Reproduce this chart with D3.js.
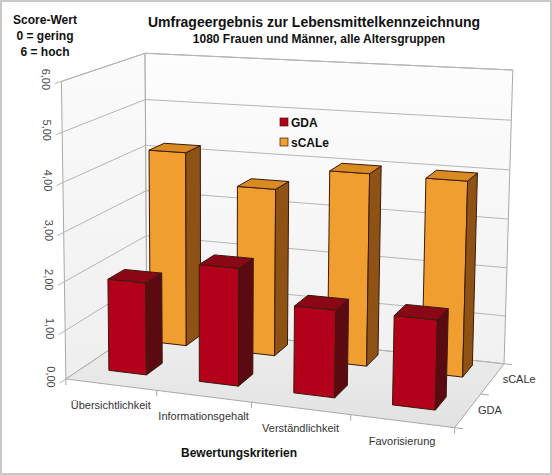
<!DOCTYPE html>
<html><head><meta charset="utf-8">
<script src="https://cdn.jsdelivr.net/npm/d3@7/dist/d3.min.js"></script>
<style>
html,body{margin:0;padding:0;background:#fff;}
text{font-family:"Liberation Sans",Arial,sans-serif;}
</style></head>
<body>
<svg id="chart" width="552" height="475"></svg>
<script>
// ---------- DATA ----------
const categories = ["Übersichtlichkeit","Informationsgehalt","Verständlichkeit","Favorisierung"];
const seriesNames = ["GDA","sCALe"];
const gdaValues   = [1.9, 2.38, 1.74, 1.75];
const scaleValues = [4.14, 3.51, 3.97, 3.96];
const yTicks = [0,1,2,3,4,5,6];
const titleText = "Umfrageergebnis zur Lebensmittelkennzeichnung";
const subtitleText = "1080 Frauen und Männer, alle Altersgruppen";
const yTitleLines = ["Score-Wert","0 = gering","6 = hoch"];
const xTitleText = "Bewertungskriterien";

// ---------- STYLE / LAYOUT ----------
const W = 552, H = 475;
const colors = {
  GDA:   {front:"#b3001b", side:"#5c0a12", top:"#8a0715"},
  sCALe: {front:"#f09e2f", side:"#8e5314", top:"#d98a22"}
};
const barWidthFrac = 0.42;          // share of a category band
const rowFront = {GDA:0.2, sCALe:0.72}; // depth position of each row's front face
const barDepth = 0.2;
// frame calibration: world (x 0..1, y 0..1, z 0..1) -> screen points
const calib = [
  [0,0,0, 70,377],[1,0,0, 457,428],[0,0,1, 146,334],[1,0,1, 507,358],
  [0,1,0, 57,81],[0,1,1, 147,52],[1,1,1, 513,73],
  [0.25,0,0, 160,390],[0.5,0,0, 255,403],[0.75,0,0, 353,417],
  [0,0.5,0, 63,232],[0,5/6,1, 147,98],[0,4/6,1, 148,145],[1,5/6,1, 510,122],[1,1/6,1, 507,311],
  // floor points under the bar fronts
  [0.0725,0,0.2, 110,370],[0.1775,0,0.2, 145,373],
  [0.3225,0,0.2, 199,380],[0.4275,0,0.2, 237,385],
  [0.5725,0,0.2, 293,393],[0.6775,0,0.2, 332,398],
  [0.8225,0,0.2, 392,408],[0.9275,0,0.2, 432,412],
  [0.1775,0,0.72, 182,343],
  [0.3225,0,0.72, 236,352],[0.4275,0,0.72, 272,354],
  [0.5725,0,0.72, 327,363],[0.6775,0,0.72, 365,365],
  [0.8225,0,0.72, 423,375],[0.9275,0,0.72, 462,377]
];

function solveDLT(pts){
  const S = 500;
  const A=[], b=[];
  pts.forEach(([X,Y,Z,u0,v0])=>{
    const u=u0/S, v=v0/S;
    A.push([X,Y,Z,1,0,0,0,0,-u*X,-u*Y,-u*Z]); b.push(u);
    A.push([0,0,0,0,X,Y,Z,1,-v*X,-v*Y,-v*Z]); b.push(v);
  });
  const n=11;
  const M=[...Array(n)].map(()=>new Array(n+1).fill(0));
  for(let i=0;i<n;i++){
    for(let j=0;j<n;j++){let s=0;for(let k=0;k<A.length;k++)s+=A[k][i]*A[k][j];M[i][j]=s;}
    let s=0;for(let k=0;k<A.length;k++)s+=A[k][i]*b[k];M[i][n]=s;
  }
  for(let c=0;c<n;c++){
    let p=c;for(let r=c+1;r<n;r++) if(Math.abs(M[r][c])>Math.abs(M[p][c]))p=r;
    [M[c],M[p]]=[M[p],M[c]];
    for(let r=0;r<n;r++){ if(r===c)continue; const f=M[r][c]/M[c][c]; for(let k=c;k<=n;k++) M[r][k]-=f*M[c][k]; }
  }
  const p=M.map((row,i)=>row[n]/row[i]);
  return (X,Y,Z)=>{
    const w=p[8]*X+p[9]*Y+p[10]*Z+1;
    return [S*(p[0]*X+p[1]*Y+p[2]*Z+p[3])/w, S*(p[4]*X+p[5]*Y+p[6]*Z+p[7])/w];
  };
}
const proj = solveDLT(calib);

// ---------- SCALES ----------
const x = d3.scaleBand().domain(categories).range([0,1]).padding(0);
const z = d3.scaleOrdinal().domain(seriesNames).range(seriesNames.map(s=>rowFront[s]));
const zLabel = d3.scaleBand().domain(seriesNames).range([0,1]).padding(0);
const y = d3.scaleLinear().domain([0,6]).range([0,1]);
const loc = d3.formatLocale({decimal:",",thousands:".",grouping:[3],currency:["","€"]});
const fmt = loc.format(".2f");

const svg = d3.select("#chart");
const defs = svg.append("defs");
function grad(id, c1, c2, x1,y1,x2,y2){
  const g=defs.append("linearGradient").attr("id",id).attr("x1",x1).attr("y1",y1).attr("x2",x2).attr("y2",y2);
  g.append("stop").attr("offset","0%").attr("stop-color",c1);
  g.append("stop").attr("offset","100%").attr("stop-color",c2);
}
grad("gFloor","#efefef","#e2e2e2","0","0","0","1");
grad("gBack","#fdfdfd","#f1f1f1","0","0","0","1");
grad("gLeft","#fbfbfb","#efefef","0","0","0","1");

svg.append("rect").attr("x",1).attr("y",1).attr("width",W-2).attr("height",H-2)
  .attr("fill","#fff").attr("stroke","#c9c9c9").attr("stroke-width",2);

const line = d3.line();
const P = pts => line(pts.map(q=>proj(q[0],q[1],q[2])))+"Z";
const L = pts => line(pts.map(q=>proj(q[0],q[1],q[2])));

const frame = svg.append("g");
frame.append("path").attr("d",P([[0,0,0],[1,0,0],[1,0,1],[0,0,1]])).attr("fill","url(#gFloor)").attr("stroke","none");
frame.append("path").attr("d",P([[0,0,0],[0,0,1],[0,1,1],[0,1,0]])).attr("fill","url(#gLeft)").attr("stroke","#a8a8a8").attr("stroke-width",1);
frame.append("path").attr("d",P([[0,0,1],[1,0,1],[1,1,1],[0,1,1]])).attr("fill","url(#gBack)").attr("stroke","#a8a8a8").attr("stroke-width",1);
yTicks.forEach(t=>{
  const v=y(t);
  frame.append("path").attr("d",L([[0,v,-0.07],[0,v,1],[1,v,1]])).attr("fill","none").attr("stroke","#b5b5b5").attr("stroke-width",1);
});
frame.append("path").attr("d",L([[0,0,0],[1,0,0],[1,0,1]])).attr("fill","none").attr("stroke","#a8a8a8").attr("stroke-width",1);
d3.range(categories.length+1).forEach(i=>{
  const [px,py]=proj(i/categories.length,0,0);
  frame.append("line").attr("x1",px).attr("y1",py).attr("x2",px).attr("y2",py+6).attr("stroke","#a8a8a8");
});
[0,0.5,1].forEach(zv=>{
  frame.append("path").attr("d",L([[1,0,zv],[1.02,0,zv]])).attr("stroke","#a8a8a8").attr("fill","none");
});

yTicks.forEach(t=>{
  const [px,py]=proj(0,y(t),0);
  svg.append("text").attr("transform",`translate(${px-15},${py-2}) rotate(90)`)
    .attr("text-anchor","middle").attr("dominant-baseline","central")
    .attr("font-size",11).attr("fill","#4a4a4a").text(fmt(t));
});
categories.forEach(c=>{
  const [px,py]=proj(x(c)+x.bandwidth()/2,0,0);
  svg.append("text").attr("x",px).attr("y",py+24).attr("text-anchor","middle")
    .attr("font-size",11).attr("fill","#333").text(c);
});
seriesNames.forEach(s=>{
  const [px,py]=proj(1,0,zLabel(s)+zLabel.bandwidth()/2);
  svg.append("text").attr("x",px+10).attr("y",py+4).attr("text-anchor","start")
    .attr("font-size",11).attr("fill","#333").text(s);
});

const seriesData = {GDA:gdaValues, sCALe:scaleValues};
const bars = svg.append("g");
["sCALe","GDA"].forEach(s=>{
  categories.forEach((c,i)=>{
    const v = seriesData[s][i];
    const x0 = x(c)+x.bandwidth()*(1-barWidthFrac)/2, x1 = x0+x.bandwidth()*barWidthFrac;
    const z0 = z(s), z1 = z0+barDepth;
    const h = y(v);
    const g = bars.append("g").attr("stroke","#3a1a0c").attr("stroke-width",1).attr("stroke-linejoin","round");
    g.append("path").attr("d",P([[x0,0,z0],[x1,0,z0],[x1,h,z0],[x0,h,z0]])).attr("fill",colors[s].front);
    g.append("path").attr("d",P([[x1,0,z0],[x1,0,z1],[x1,h,z1],[x1,h,z0]])).attr("fill",colors[s].side);
    g.append("path").attr("d",P([[x0,h,z0],[x1,h,z0],[x1,h,z1],[x0,h,z1]])).attr("fill",colors[s].top);
  });
});

const leg = svg.append("g");
seriesNames.forEach((s,i)=>{
  leg.append("rect").attr("x",280).attr("y",118+i*20).attr("width",8).attr("height",8)
    .attr("fill",colors[s].front).attr("stroke","#3a1a0c").attr("stroke-width",0.7);
  leg.append("text").attr("x",291).attr("y",126.5+i*20).attr("font-size",12).attr("font-weight","bold")
    .attr("fill","#111").text(s);
});

svg.append("text").attr("x",314).attr("y",27).attr("text-anchor","middle").attr("font-size",14)
  .attr("font-weight","bold").attr("fill","#111").text(titleText);
svg.append("text").attr("x",319).attr("y",43).attr("text-anchor","middle").attr("font-size",12)
  .attr("font-weight","bold").attr("fill","#111").text(subtitleText);
yTitleLines.forEach((t,i)=>{
  svg.append("text").attr("x",45).attr("y",24+i*16).attr("text-anchor","middle").attr("font-size",12)
    .attr("font-weight","bold").attr("fill","#111").text(t);
});
svg.append("text").attr("x",239).attr("y",457).attr("text-anchor","middle").attr("font-size",12)
  .attr("font-weight","bold").attr("fill","#111").text(xTitleText);
</script>
</body></html>
